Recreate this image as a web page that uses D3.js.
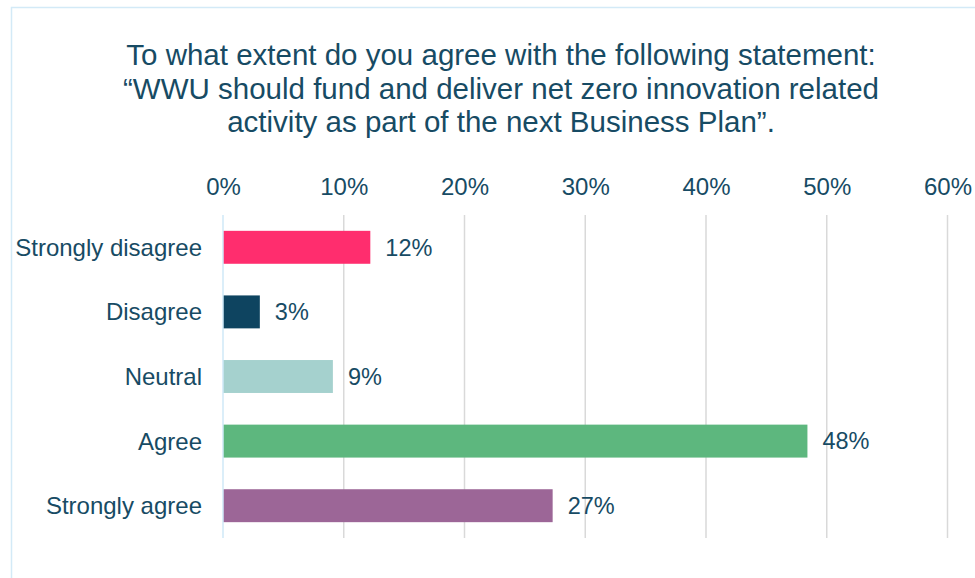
<!DOCTYPE html>
<html>
<head>
<meta charset="utf-8">
<script src="https://cdn.jsdelivr.net/npm/d3@7"></script>
<style>
  html, body { margin: 0; padding: 0; background: #fff; }
  svg { display: block; font-family: "Liberation Sans", Arial, sans-serif; }
</style>
</head>
<body>
<svg id="chart" width="975" height="578"></svg>
<script>
// Survey responses (share of respondents, %)
const categories = ["Strongly disagree", "Disagree", "Neutral", "Agree", "Strongly agree"];
const values = [12.2, 3.05, 9.1, 48.4, 27.3];
const colors = ["#ff2d6e", "#0e4460", "#a5d1ce", "#5db77e", "#9c6697"];
const tickValues = [0, 10, 20, 30, 40, 50, 60];
const titleLines = [
  "To what extent do you agree with the following statement:",
  "\u201CWWU should fund and deliver net zero innovation related",
  "activity as part of the next Business Plan\u201D."
];

const textColor = "#174b64";
const svg = d3.select("#chart");

// outer frame
svg.append("rect")
  .attr("x", 11.5).attr("y", 7.5)
  .attr("width", 1000).attr("height", 600)
  .attr("fill", "none")
  .attr("stroke", "#d3eaf7")
  .attr("stroke-width", 1.5);

// title
svg.append("g").selectAll("text")
  .data(titleLines)
  .join("text")
  .attr("x", 501)
  .attr("y", (d, i) => 65 + i * 33.5)
  .attr("text-anchor", "middle")
  .attr("fill", textColor)
  .style("font-size", "29.5px")
  .text(d => d);

const x = d3.scaleLinear().domain([0, 60]).range([223, 947.5]);
const y = d3.scaleBand().domain(categories).range([215, 538]).paddingInner(0.49).paddingOuter(0.245);

// vertical gridlines
svg.append("g").selectAll("line")
  .data(tickValues.filter(t => t > 0))
  .join("line")
  .attr("x1", d => x(d)).attr("x2", d => x(d))
  .attr("y1", 215).attr("y2", 538)
  .attr("stroke", "#d9d9d9")
  .attr("stroke-width", 1.5);

// top axis labels
const axis = svg.append("g")
  .attr("transform", "translate(0,195)")
  .call(d3.axisTop(x).tickValues(tickValues).tickFormat(d => d + "%").tickSize(0).tickPadding(0));
axis.select(".domain").remove();
axis.selectAll("text")
  .attr("fill", textColor)
  .attr("dy", 0)
  .style("font-size", "24px")
  .style("font-family", "\"Liberation Sans\", Arial, sans-serif");

// bars
svg.append("g").selectAll("rect")
  .data(categories)
  .join("rect")
  .attr("x", x(0))
  .attr("y", d => y(d))
  .attr("width", (d, i) => x(values[i]) - x(0))
  .attr("height", y.bandwidth())
  .attr("fill", (d, i) => colors[i]);

// zero baseline
svg.append("line")
  .attr("x1", x(0)).attr("x2", x(0))
  .attr("y1", 215).attr("y2", 538)
  .attr("stroke", "#cfe8f7")
  .attr("stroke-width", 1.5);

// category labels
svg.append("g").selectAll("text")
  .data(categories)
  .join("text")
  .attr("x", 202)
  .attr("y", d => y(d) + y.bandwidth() / 2)
  .attr("dy", "0.35em")
  .attr("text-anchor", "end")
  .attr("fill", textColor)
  .style("font-size", "24px")
  .text(d => d);

// value labels
svg.append("g").selectAll("text")
  .data(categories)
  .join("text")
  .attr("x", (d, i) => x(values[i]) + 15)
  .attr("y", d => y(d) + y.bandwidth() / 2)
  .attr("dy", "0.35em")
  .attr("fill", textColor)
  .style("font-size", "23.5px")
  .text((d, i) => Math.round(values[i]) + "%");
</script>
</body>
</html>
